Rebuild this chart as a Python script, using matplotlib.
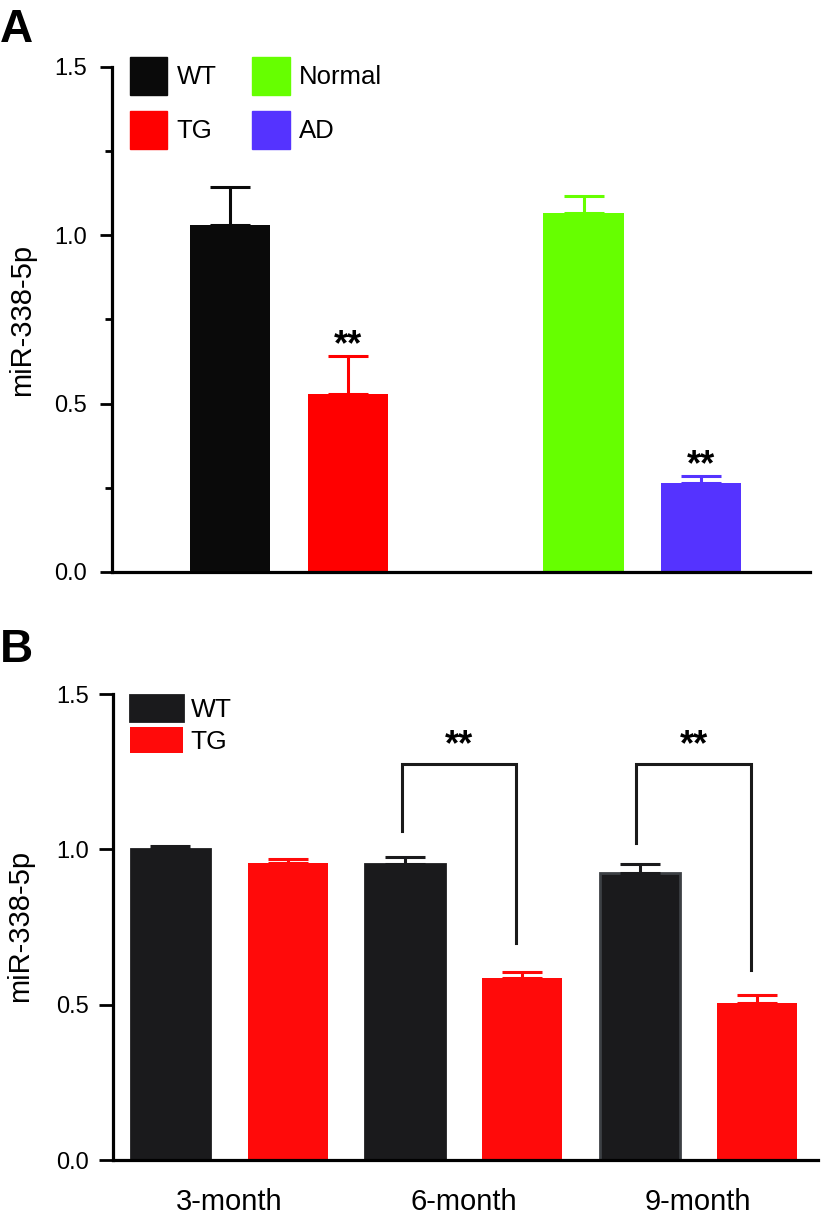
import numpy as np
import matplotlib
matplotlib.use("Agg")
import matplotlib.pyplot as plt
from matplotlib.patches import Patch

plt.rcParams['font.family'] = ['Liberation Sans', 'DejaVu Sans']

# panel A data
groups_a = ['WT', 'TG', 'Normal', 'AD']
vals_a = [1.03, 0.53, 1.066, 0.264]
err_a = [0.115, 0.113, 0.051, 0.022]
colors_a = ['#0a0a0a', '#ff0000', '#66ff00', '#5533ff']
stars_a = ['', '**', '', '**']

# panel B data
months = ['3-month', '6-month', '9-month']
wt_b = [1.0, 0.953, 0.925]
wt_err = [0.01, 0.023, 0.028]
tg_b = [0.957, 0.587, 0.505]
tg_err = [0.013, 0.019, 0.025]
# bracket heights: (top, left leg end, right leg end)
br_top = [None, 1.274, 1.274]
br_left = [None, 1.06, 1.019]
br_right = [None, 0.698, 0.611]

fig = plt.figure(figsize=(8.21, 12.18), dpi=100)

# ---------- A ----------
axA = fig.add_axes([0.1364, 0.5304, 0.850, 0.4146])
xa = np.array([1, 2, 4, 5])
axA.bar(xa, vals_a, width=0.68, color=colors_a, zorder=2)
for x, v, e, c in zip(xa, vals_a, err_a, colors_a):
    axA.errorbar(x, v, yerr=[[0], [e]], fmt='none', ecolor=c, elinewidth=2.2,
                 capsize=14.5, capthick=2.2, zorder=3)
for x, v, e, s in zip(xa, vals_a, err_a, stars_a):
    if s:
        axA.text(x, v + e + 0.03, s, ha='center', va='center', fontsize=26,
                 fontweight='bold')
axA.set_xlim(0, 5.92)
axA.set_ylim(0, 1.5)
axA.set_yticks([0, 0.5, 1.0, 1.5])
axA.set_yticklabels(['0.0', '0.5', '1.0', '1.5'])
axA.set_yticks([0.25, 0.75, 1.25], minor=True)
axA.set_xticks([])
axA.tick_params(axis='y', which='major', length=9, width=2, labelsize=17, pad=9)
axA.tick_params(axis='y', which='minor', length=5, width=2)
for sp in ['top', 'right']:
    axA.spines[sp].set_visible(False)
for sp in ['left', 'bottom']:
    axA.spines[sp].set_linewidth(2.3)
handles_a = [Patch(color=c) for c in colors_a]
axA.legend(handles_a, groups_a,
           ncol=2, loc='upper left', bbox_to_anchor=(0.0258, 1.02),
           frameon=False, fontsize=18.5, handlelength=1.45, handleheight=1.9,
           handletextpad=0.36, labelspacing=0.62, columnspacing=1.4,
           borderpad=0, borderaxespad=0)
fig.text(0.0268, 0.7373, 'miR-338-5p', rotation=90, ha='center', va='center',
         fontsize=21)
fig.text(0.0, 1 - 8 / 1218, 'A', ha='left', va='top', fontsize=33,
         fontweight='bold')

# ---------- B ----------
axB = fig.add_axes([0.1376, 0.0476, 0.8587, 0.3826])
xw = np.arange(len(months)) * 2
xt = xw + 1
wt_edges = ['#1a1a1c', '#1a1a1c', '#3c4044']
axB.bar(xw, wt_b, width=0.68, color='#1a1a1c', edgecolor=wt_edges,
        linewidth=2, zorder=2, label='WT')
axB.bar(xt, tg_b, width=0.68, color='#ff0a0a', zorder=2, label='TG')
axB.errorbar(xw, wt_b, yerr=[np.zeros(3), wt_err], fmt='none', ecolor='#1a1a1c',
             elinewidth=2.2, capsize=14.5, capthick=2.2, zorder=3)
axB.errorbar(xt, tg_b, yerr=[np.zeros(3), tg_err], fmt='none', ecolor='#ff0a0a',
             elinewidth=2.2, capsize=14.5, capthick=2.2, zorder=3)
for i in range(len(months)):
    if br_top[i] is None:
        continue
    xl = xw[i] - 0.03
    xr = xt[i] - 0.05
    axB.plot([xl, xl, xr, xr], [br_left[i], br_top[i], br_top[i], br_right[i]],
             color='#1a1a1a', lw=2.2, solid_joinstyle='miter')
    axB.text((xl + xr) / 2, br_top[i] + 0.06, '**', ha='center', va='center',
             fontsize=26, fontweight='bold')
axB.set_xlim(-0.49, 5.52)
axB.set_ylim(0, 1.5)
axB.set_yticks([0, 0.5, 1.0, 1.5])
axB.set_yticklabels(['0.0', '0.5', '1.0', '1.5'])
axB.set_xticks(xw + 0.5)
axB.set_xticklabels(months, fontsize=21)
axB.tick_params(axis='x', length=0, pad=20)
axB.tick_params(axis='y', length=10, width=2, labelsize=17, pad=7)
for sp in ['top', 'right']:
    axB.spines[sp].set_visible(False)
for sp in ['left', 'bottom']:
    axB.spines[sp].set_linewidth(2.3)
axB.legend(loc='upper left', bbox_to_anchor=(0.024, 0.998), frameon=False,
           fontsize=19, handlelength=2.0, handleheight=1.15, handletextpad=0.3,
           labelspacing=0.2, borderpad=0, borderaxespad=0)
fig.text(0.0244, 0.2397, 'miR-338-5p', rotation=90, ha='center', va='center',
         fontsize=21)
fig.text(0.0, 1 - 628 / 1218, 'B', ha='left', va='top', fontsize=33,
         fontweight='bold')

fig.savefig('out.png', dpi=100)
